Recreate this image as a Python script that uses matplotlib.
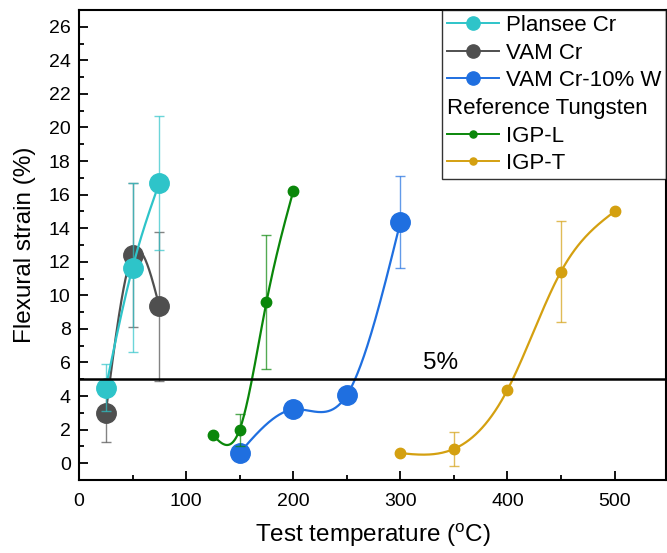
import matplotlib
matplotlib.use("Agg")
import matplotlib.pyplot as plt
import numpy as np
from matplotlib.lines import Line2D

plt.rcParams['font.family'] = ['Liberation Sans', 'DejaVu Sans']

# data
plansee_T = [25, 50, 75]
plansee_e = [4.5, 11.65, 16.7]
plansee_err = [1.4, 5.05, 4.0]

vamcr_T = [25, 50, 75]
vamcr_e = [3.0, 12.4, 9.35]
vamcr_err = [1.75, 4.3, 4.45]

vamw_T = [150, 200, 250, 300]
vamw_e = [0.62, 3.2, 4.05, 14.35]
vamw_err = [0, 0, 0, 2.75]

igpl_T = [125, 150, 175, 200]
igpl_e = [1.68, 2.0, 9.6, 16.2]
igpl_err = [0, 0.95, 4.0, 0]

igpt_T = [300, 350, 400, 450, 500]
igpt_e = [0.6, 0.85, 4.37, 11.42, 15.0]
igpt_err = [0, 1.0, 0, 3.0, 0]


def spline(x, y, n=200):
    # natural cubic spline through the points
    x = np.asarray(x, float)
    y = np.asarray(y, float)
    k = len(x)
    h = np.diff(x)
    A = np.zeros((k, k))
    b = np.zeros(k)
    A[0, 0] = A[-1, -1] = 1
    for i in range(1, k - 1):
        A[i, i - 1] = h[i - 1]
        A[i, i] = 2 * (h[i - 1] + h[i])
        A[i, i + 1] = h[i]
        b[i] = 6 * ((y[i + 1] - y[i]) / h[i] - (y[i] - y[i - 1]) / h[i - 1])
    M = np.linalg.solve(A, b)
    xs = np.linspace(x[0], x[-1], n)
    idx = np.clip(np.searchsorted(x, xs) - 1, 0, k - 2)
    x0, x1 = x[idx], x[idx + 1]
    hh = x1 - x0
    t0 = x1 - xs
    t1 = xs - x0
    ys = (M[idx] * t0 ** 3 + M[idx + 1] * t1 ** 3) / (6 * hh) \
        + (y[idx] / hh - M[idx] * hh / 6) * t0 + (y[idx + 1] / hh - M[idx + 1] * hh / 6) * t1
    return xs, ys


series = [
    (vamcr_T, vamcr_e, vamcr_err, '#4f4f4f', 14, 'VAM Cr'),
    (plansee_T, plansee_e, plansee_err, '#2ec4c9', 14, 'Plansee Cr'),
    (vamw_T, vamw_e, vamw_err, '#1f6fe0', 14, 'VAM Cr-10% W'),
    (igpl_T, igpl_e, igpl_err, '#0a870a', 7.5, 'IGP-L'),
    (igpt_T, igpt_e, igpt_err, '#d4a010', 7.5, 'IGP-T'),
]

fig = plt.figure(figsize=(6.67, 5.53), dpi=100)
ax = fig.add_axes([0.1184, 0.132, 0.8801, 0.850])

handles = {}
for i, (x, y, err, c, ms, name) in enumerate(series):
    xs, ys = spline(x, y)
    ax.plot(xs, ys, color=c, lw=1.6, zorder=2 + i)
    ex = [xx for xx, ee in zip(x, err) if ee > 0]
    ey = [yy for yy, ee in zip(y, err) if ee > 0]
    ee = [e for e in err if e > 0]
    ax.errorbar(ex, ey, yerr=ee, fmt='none', ecolor=c, alpha=0.7, elinewidth=1.0,
                capsize=3.5, capthick=1.0, zorder=2 + i)
    ax.plot(x, y, 'o', color=c, ms=ms, zorder=2.5 + i)
    handles[name] = Line2D([], [], color=c, lw=1.4, marker='o', ms=ms * 0.68)

ax.axhline(5, color='black', lw=1.8, zorder=10)
ax.text(338, 5.6, '5%', fontsize=17.5, ha='center', va='baseline')

ax.set_xlim(0, 548)
ax.set_ylim(-1, 27)
ax.set_xticks([0, 100, 200, 300, 400, 500])
ax.set_xticks(np.arange(50, 550, 100), minor=True)
ax.set_yticks(np.arange(0, 27, 2))
ax.set_yticks(np.arange(-1, 27, 1), minor=True)
ax.tick_params(which='both', direction='in', width=1.3, labelsize=14, top=False, right=False)
ax.tick_params(which='major', length=6.5)
ax.tick_params(which='minor', length=3.5)
ax.tick_params(axis='y', pad=6)
ax.tick_params(axis='x', pad=9)
for s in ax.spines.values():
    s.set_linewidth(1.5)

ax.set_xlabel('Test temperature ($\\mathregular{^oC}$)', fontsize=17.5, labelpad=9)
ax.set_ylabel('Flexural strain (%)', fontsize=17.5, labelpad=9)

blank = Line2D([], [], color='none')
leg_h = [handles['Plansee Cr'], handles['VAM Cr'], handles['VAM Cr-10% W'], blank,
         handles['IGP-L'], handles['IGP-T']]
leg_l = ['Plansee Cr', 'VAM Cr', 'VAM Cr-10% W', ' ', 'IGP-L', 'IGP-T']
leg = ax.legend(leg_h, leg_l, loc='upper right', bbox_to_anchor=(1.0, 1.0), borderaxespad=0,
                fontsize=16, frameon=True, fancybox=False, edgecolor='black', handlelength=2.35,
                handletextpad=0.3, labelspacing=0.3, borderpad=0.22)
leg.get_frame().set_linewidth(1.0)
leg.set_zorder(20)

fig.canvas.draw()
# the handle-less "Reference Tungsten" row starts at the left of the box
bb = leg.get_window_extent()
tb = leg.get_texts()[3].get_window_extent()
fig.text(bb.x0 + 5, (tb.y0 + tb.y1) / 2, 'Reference Tungsten', transform=None,
         fontsize=16, va='center', ha='left', zorder=21)

fig.savefig('out.png', dpi=100)
